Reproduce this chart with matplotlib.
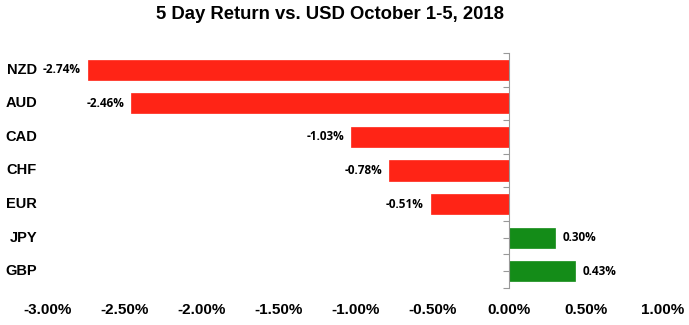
import matplotlib.pyplot as plt
import matplotlib.transforms as mtransforms
import numpy as np

currencies = ["NZD", "AUD", "CAD", "CHF", "EUR", "JPY", "GBP"]
returns = [-2.74, -2.46, -1.03, -0.78, -0.51, 0.30, 0.43]
xticks = [-3.0, -2.5, -2.0, -1.5, -1.0, -0.5, 0.0, 0.5, 1.0]

fig = plt.figure(figsize=(6.89, 3.25), dpi=100)
ax = fig.add_axes([0.0697, 0.114, 0.8926, 0.723])

pos = list(range(len(currencies)))
colors = ["#ff2416" if r < 0 else "#148c18" for r in returns]
ax.barh(pos, returns, height=0.6, color=colors, edgecolor=colors, linewidth=0.5, zorder=2)

ax.set_xlim(-3.0, 1.0)
ax.set_ylim(len(currencies) - 0.5, -0.5)

# y axis line sits at zero, ticks at every half step
ax.spines["left"].set_position(("data", 0))
ax.spines["left"].set_color("#999999")
for s in ["top", "right", "bottom"]:
    ax.spines[s].set_visible(False)
ax.set_yticks(np.arange(-0.5, len(currencies), 0.5))
ax.set_yticklabels([])
ax.tick_params(axis="y", direction="out", length=4, color="#999999")

ax.set_xticks(xticks)
ax.set_xticklabels(["%.2f%%" % t for t in xticks], fontsize=11, fontweight="bold",
                   family="Liberation Sans")
ax.tick_params(axis="x", length=0, pad=11)

# currency names at the left edge
trans = mtransforms.blended_transform_factory(ax.transAxes, ax.transData)
for p, c in zip(pos, currencies):
    ax.text(-0.018, p, c, transform=trans, ha="right", va="center",
            fontsize=10.5, fontweight="bold", family="Liberation Sans")

# value labels
for p, r in zip(pos, returns):
    if r < 0:
        ax.text(r - 0.045, p, "%.2f%%" % r, ha="right", va="center",
                fontsize=8.5, fontweight="bold", family="Open Sans")
    else:
        ax.text(r + 0.045, p, "%.2f%%" % r, ha="left", va="center",
                fontsize=8.5, fontweight="bold", family="Open Sans")

fig.text(0.479, 0.955, "5 Day Return vs. USD October 1-5, 2018", ha="center", va="center",
         fontsize=13.3, fontweight="bold", family="Liberation Sans")

fig.savefig("out.png", dpi=100)
